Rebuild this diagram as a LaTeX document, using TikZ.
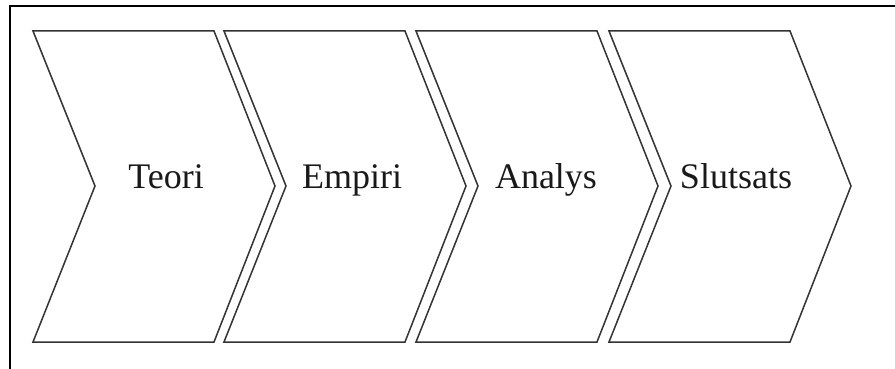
\documentclass[tikz,border=0pt]{standalone}
\usepackage{fontspec}
\setmainfont{Liberation Serif}
\begin{document}
\begin{tikzpicture}[x=1pt,y=-1pt,
  frame/.style={line width=2.2pt,black},
  chev/.style={line width=1.5pt,draw=black!80,line join=miter},
  lbl/.style={anchor=base,font=\fontsize{36}{40}\selectfont,text=black!90,inner sep=0pt}]
\useasboundingbox (0,0) rectangle (895,369);
\fill[white] (0,0) rectangle (895,369);
\draw[frame] (10,369) -- (10,6) -- (895,6);
\foreach \L in {33,224,416,609}{
  \draw[chev] (\L,31) -- ++(181,0) -- ++(61,155) -- ++(-61,156) -- ++(-181,0) -- ++(62,-156) -- cycle;
}
\node[lbl] (teori) at (166,188) {Teori};
\node[lbl] (empiri) at (352,188) {Empiri};
\node[lbl] (analys) at (546,188) {Analys};
\node[lbl] (slutsats) at (736,188) {Slutsats};
\end{tikzpicture}
\end{document}
